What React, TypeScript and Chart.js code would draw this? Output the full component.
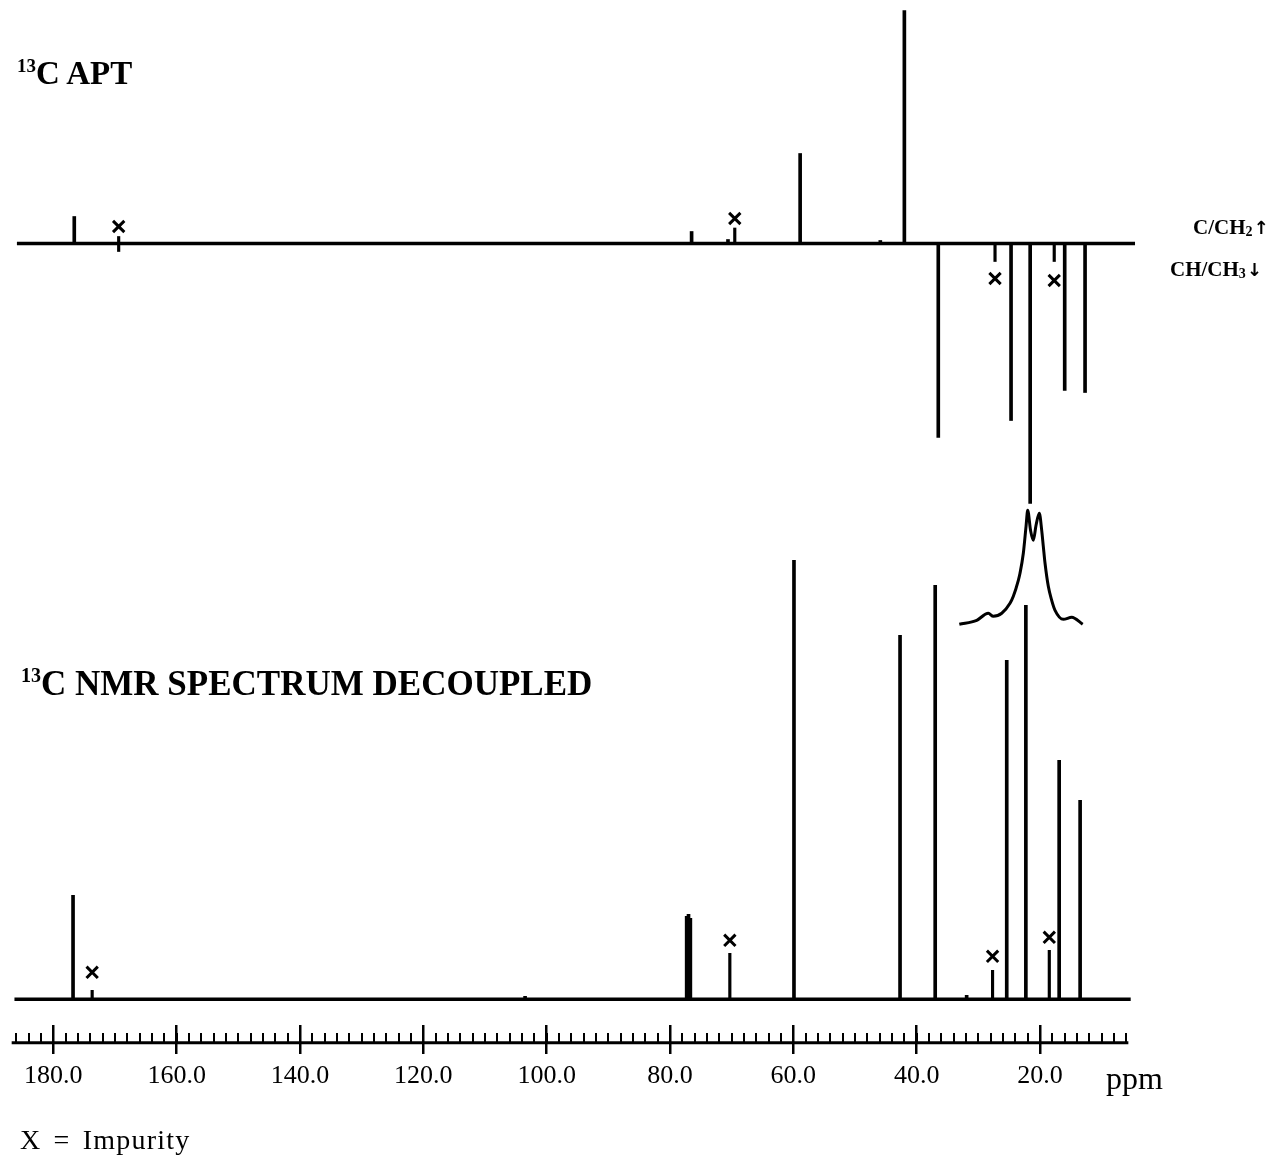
import React, { useEffect, useRef } from 'react';
import { Chart, registerables } from 'chart.js';

Chart.register(...registerables);

// ---------------- data ----------------
// Decoupled 13C spectrum: peak positions (ppm) and heights (arbitrary units)
const decPpm = [176.8, 103.5, 77.3, 77.0, 76.7, 59.9, 42.7, 37.0, 31.9, 25.4, 22.3, 16.9, 13.5];
const decHeight = [104, 3, 83, 85, 81, 439, 364, 414, 4, 339, 394, 239, 199];
// Decoupled impurity peaks (marked with x)
const decImpPpm = [173.7, 70.3, 27.7, 18.5];
const decImpHeight = [9, 46, 29, 49];
const decImpMark = [27, 59, 43, 62];

// APT spectrum: positive = C/CH2, negative = CH/CH3
const aptPpm = [176.6, 76.5, 70.6, 58.9, 45.9, 42.0, 36.5, 24.7, 21.6, 16.0, 12.7];
const aptHeight = [27, 12, 4, 90, 3, 233, -194, -177, -260, -147, -149];
// APT impurity peaks: [low, high]
const aptImpPpm = [169.4, 69.5, 27.3, 17.7];
const aptImpLow = [-8, 0, -18, -18];
const aptImpHigh = [7, 15.5, 0, 0];
const aptImpMark = [17, 25, -35, -37];

// Expanded inset of the 22 ppm signal (drawn in the decoupled panel)
const insetPpm = [33.09, 30.27, 28.39, 27.58, 26.21, 24.87, 24.33, 23.52, 23.25, 22.71, 22.27, 22.0, 21.54, 21.09, 20.65, 20.12, 19.73, 19.47, 19.19, 18.66, 18.11, 17.57, 16.23, 14.86, 13.08];
const insetHeight = [375, 379, 386, 383, 386, 396, 403, 419, 426, 446, 473, 489, 469, 459, 474, 486, 469, 453, 436, 413, 399, 389, 380, 382, 375];

// baseline extents (ppm)
const aptBaselineRange = [185.9, 4.6];
const decBaselineRange = [186.3, 5.3];
const rulerRange = [186.75, 5.68];

// axis
const xMinorStep = 2;
const xMajorStep = 20;
const X_MAX = 186.86;
const X_MIN = 4.44;

// ---------------- layout constants ----------------
const W = 1285;
const H = 1158;
const APT_BASE_PX = 243.5;
const DEC_BASE_PX = 999.3;
const RULER_OFFSET = -43.4; // ruler position in decoupled-panel units

const xy = (xs: number[], ys: number[]) => xs.map((x, i) => ({ x, y: ys[i] }));

export default function App() {
  const ref = useRef<HTMLCanvasElement | null>(null);

  useEffect(() => {
    if (!ref.current) return;
    const black = '#000';
    const gridBase = {
      drawOnChartArea: false,
      drawTicks: true,
      offset: false,
      color: black,
      tickColor: black,
    };
    const xCommon: any = {
      type: 'linear',
      axis: 'x',
      min: X_MIN,
      max: X_MAX,
      reverse: true,
      offset: false,
      position: { yDec: RULER_OFFSET },
      border: { display: false },
    };
    const barCommon: any = {
      type: 'bar',
      xAxisID: 'x',
      stack: 'spectrum',
      barThickness: 3,
      backgroundColor: black,
      borderWidth: 0,
    };
    const lineCommon: any = {
      type: 'line',
      xAxisID: 'x',
      borderColor: black,
      pointRadius: 0,
      fill: false,
    };
    const markCommon: any = {
      type: 'scatter',
      xAxisID: 'x',
      pointStyle: 'crossRot',
      pointRadius: 8,
      pointBorderWidth: 3,
      borderColor: black,
      backgroundColor: black,
    };

    const chart = new Chart(ref.current, {
      type: 'line',
      data: {
        datasets: [
          {
            ...lineCommon,
            yAxisID: 'yDec',
            borderWidth: 3,
            data: rulerRange.map((x) => ({ x, y: RULER_OFFSET })),
          },
          {
            ...lineCommon,
            yAxisID: 'yApt',
            borderWidth: 3.5,
            data: aptBaselineRange.map((x) => ({ x, y: 0 })),
          },
          {
            ...lineCommon,
            yAxisID: 'yDec',
            borderWidth: 3.5,
            data: decBaselineRange.map((x) => ({ x, y: 0 })),
          },
          { ...barCommon, yAxisID: 'yApt', data: xy(aptPpm, aptHeight) },
          {
            ...barCommon,
            yAxisID: 'yApt',
            barThickness: 2.5,
            data: aptImpPpm.map((x, i) => ({ x, y: [aptImpLow[i], aptImpHigh[i]] })),
          },
          { ...barCommon, yAxisID: 'yDec', data: xy(decPpm, decHeight) },
          { ...barCommon, yAxisID: 'yDec', barThickness: 2.5, data: xy(decImpPpm, decImpHeight) },
          { ...markCommon, yAxisID: 'yApt', data: xy(aptImpPpm, aptImpMark) },
          { ...markCommon, yAxisID: 'yDec', data: xy(decImpPpm, decImpMark) },
          {
            ...lineCommon,
            yAxisID: 'yDec',
            borderWidth: 3,
            cubicInterpolationMode: 'monotone',
            data: xy(insetPpm, insetHeight),
          },
        ] as any,
      },
      options: {
        responsive: false,
        animation: false,
        devicePixelRatio: 1,
        layout: { autoPadding: false, padding: { left: 11, right: W - 1136, top: 0, bottom: 0 } },
        plugins: {
          legend: { display: false },
          tooltip: { enabled: false },
        },
        events: [],
        scales: {
          x: {
            ...xCommon,
            grid: { ...gridBase, tickLength: -10, tickWidth: 2, lineWidth: 2 },
            ticks: {
              display: false,
              stepSize: xMinorStep,
              includeBounds: false,
              autoSkip: false,
              maxTicksLimit: 1000,
            },
          },
          xMajUp: {
            ...xCommon,
            grid: { ...gridBase, tickLength: -18, tickWidth: 2.5, lineWidth: 2.5 },
            ticks: {
              display: false,
              stepSize: xMajorStep,
              includeBounds: false,
              autoSkip: false,
            },
          },
          xMajDown: {
            ...xCommon,
            grid: { ...gridBase, tickLength: 11, tickWidth: 2.5, lineWidth: 2.5 },
            ticks: {
              display: true,
              stepSize: xMajorStep,
              includeBounds: false,
              autoSkip: false,
              maxRotation: 0,
              padding: 7,
              color: black,
              font: { family: '"Liberation Serif", serif', size: 26 },
              callback: (v: any) => Number(v).toFixed(1),
            },
          },
          yApt: {
            type: 'linear',
            display: false,
            offset: false,
            min: APT_BASE_PX - H,
            max: APT_BASE_PX,
          },
          yDec: {
            type: 'linear',
            display: false,
            offset: false,
            min: DEC_BASE_PX - H,
            max: DEC_BASE_PX,
          },
        } as any,
      },
    });
    return () => chart.destroy();
  }, []);

  const serif = '"Liberation Serif", "Times New Roman", serif';
  const abs = (left: number, top: number): React.CSSProperties => ({
    position: 'absolute',
    left,
    top,
    whiteSpace: 'nowrap',
    lineHeight: 1,
    color: '#000',
    fontFamily: serif,
  });
  const arrow: React.CSSProperties = { fontFamily: '"DejaVu Sans", sans-serif', fontWeight: 'bold', fontSize: 18, marginLeft: 1 };

  return (
    <div style={{ position: 'absolute', left: 0, top: 0, width: W, height: H, background: '#fff', overflow: 'hidden' }}>
      <canvas ref={ref} width={W} height={H} style={{ position: 'absolute', left: 0, top: 0, width: W, height: H }} />
      <div style={{ ...abs(17, 57), fontSize: 33, fontWeight: 'bold' }}>
        <span style={{ fontSize: 19, position: 'relative', top: -12 }}>13</span>C APT
      </div>
      <div style={{ ...abs(21, 666), fontSize: 35, fontWeight: 'bold' }}>
        <span style={{ fontSize: 20, position: 'relative', top: -13 }}>13</span>C NMR SPECTRUM DECOUPLED
      </div>
      <div style={{ ...abs(1193, 217), fontSize: 21, fontWeight: 'bold' }}>
        C/CH<span style={{ fontSize: 14, position: 'relative', top: 2 }}>2</span>
        <span style={arrow}>↑</span>
      </div>
      <div style={{ ...abs(1170, 259), fontSize: 21, fontWeight: 'bold' }}>
        CH/CH<span style={{ fontSize: 14, position: 'relative', top: 2 }}>3</span>
        <span style={arrow}>↓</span>
      </div>
      <div style={{ ...abs(1106, 1062), fontSize: 32 }}>ppm</div>
      <div style={{ ...abs(20, 1126), fontSize: 28, wordSpacing: 4, letterSpacing: 1.2 }}>X = Impurity</div>
    </div>
  );
}
